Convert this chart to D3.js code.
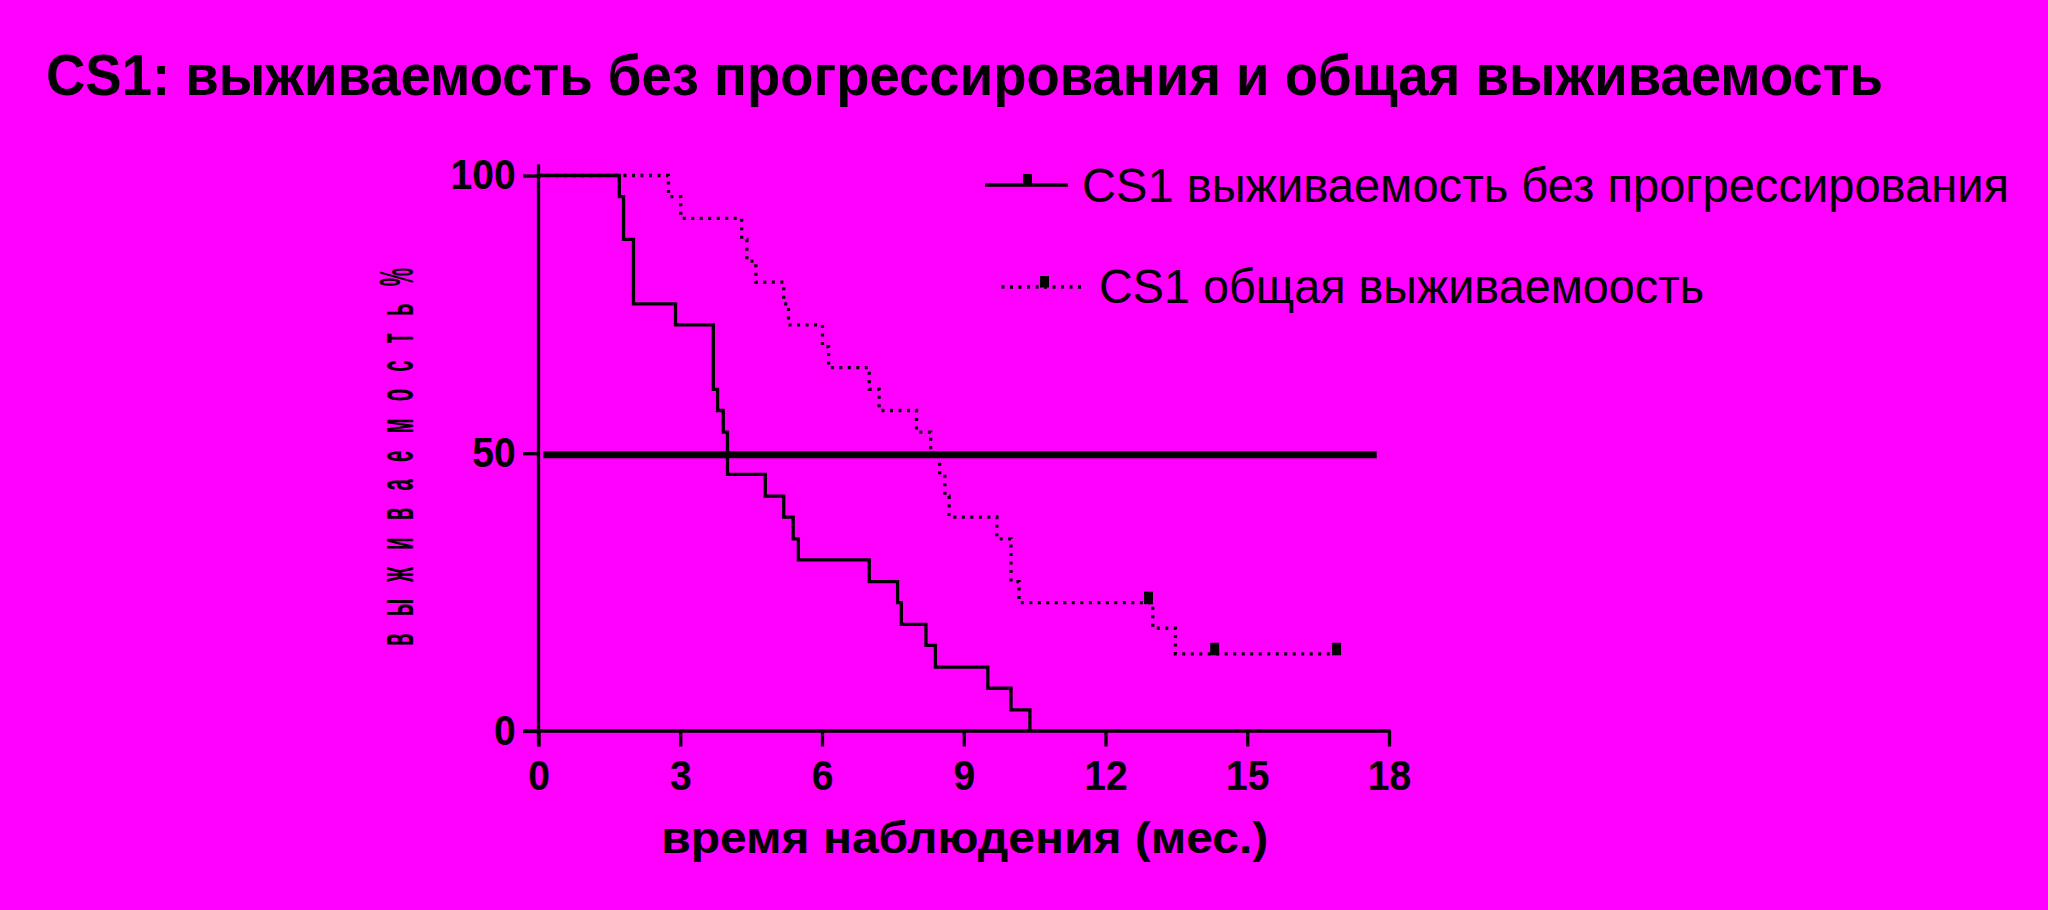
<!DOCTYPE html>
<html><head><meta charset="utf-8">
<script src="https://cdn.jsdelivr.net/npm/d3@7"></script>
<style>html,body{margin:0;padding:0;background:#ff00ff;overflow:hidden}</style>
</head><body>
<svg id="c" width="2048" height="910"></svg>
<script>
// ---- data ----
const titleText = "CS1: выживаемость без прогрессирования и общая выживаемость";
const xLabel = "время наблюдения (мес.)";
const yLabel = "в ы ж и в а е м о с т ь %";
const seriesNames = ["CS1 выживаемость без прогрессирования", "CS1 общая выживаемоость"];
const xTicks = [0, 3, 6, 9, 12, 15, 18];
const yTicks = [0, 50, 100];
const xDomain = [0, 18];
const yDomain = [0, 102];

const pfsTime = [0, 1.71, 1.80, 2.01, 2.90, 3.70, 3.79, 3.91, 4.00, 4.80, 5.19, 5.39, 5.50, 7.00, 7.60, 7.68, 8.20, 8.40, 9.51, 10.00, 10.40];
const pfsSurv = [100, 96.2, 88.5, 76.9, 73.1, 61.5, 57.7, 53.8, 46.2, 42.3, 38.5, 34.6, 30.8, 26.9, 23.1, 19.2, 15.4, 11.5, 7.7, 3.8, 0];

const osTime = [0, 2.75, 3.01, 4.30, 4.41, 4.60, 5.19, 5.29, 6.01, 6.14, 7.00, 7.21, 8.00, 8.30, 8.49, 8.60, 8.69, 9.70, 10.00, 10.17, 13.00, 13.48, 16.87];
const osSurv = [100, 96.2, 92.3, 88.5, 84.6, 80.8, 76.9, 73.1, 69.2, 65.4, 61.5, 57.7, 53.8, 50.0, 46.2, 42.3, 38.5, 34.6, 26.9, 23.1, 18.5, 13.9, 13.9];

const osCensorTime = [12.91, 14.31, 16.89];
const osCensorSurv = [23.1, 13.9, 13.9];

const medianLevel = 50;
const medianFrom = 0.1;
const medianTo = 17.74;

// ---- drawing ----
const svg = d3.select("#c");
const FONT = "'Liberation Sans', Arial, Helvetica, sans-serif";
const x = d3.scaleLinear().domain(xDomain).range([538.5, 1389]);
const y = d3.scaleLinear().domain(yDomain).range([731, 164.4]);
const SW = 3.3;

// title
svg.append("text").attr("x", 46).attr("y", 95)
  .attr("font-family", FONT).attr("font-weight", "bold").attr("font-size", 58)
  .attr("textLength", 1837).attr("lengthAdjust", "spacingAndGlyphs")
  .text(titleText);

// axes
const tickLen = 15.5;
const yAxis = d3.axisLeft(y).tickValues(yTicks).tickSize(tickLen).tickPadding(9).tickSizeOuter(0);
const xAxis = d3.axisBottom(x).tickValues(xTicks).tickSize(tickLen).tickPadding(13.5).tickSizeOuter(0);

const gy = svg.append("g").attr("transform", `translate(${x(0)},0)`).call(yAxis);
const gx = svg.append("g").attr("transform", `translate(0,${y(0)})`).call(xAxis);
[gy, gx].forEach(g => {
  g.select(".domain").remove();
  g.selectAll(".tick line").attr("stroke", "#000").attr("stroke-width", SW);
  g.selectAll(".tick text").attr("fill", "#000")
    .attr("font-family", FONT).attr("font-weight", "bold").attr("font-size", 42);
});
gy.selectAll(".tick text").attr("transform", "scale(0.93,1)");
gx.selectAll(".tick text").attr("transform", "scale(0.93,1)");

// axis lines (Prism style: extend by tick length)
svg.append("line").attr("x1", x(0)).attr("x2", x(0))
  .attr("y1", y(yDomain[1])).attr("y2", y(0) + tickLen)
  .attr("stroke", "#000").attr("stroke-width", SW);
svg.append("line").attr("x1", x(0) - tickLen).attr("x2", x(xDomain[1]) + SW / 2)
  .attr("y1", y(0)).attr("y2", y(0))
  .attr("stroke", "#000").attr("stroke-width", SW);

// median line
svg.append("line").attr("x1", x(medianFrom)).attr("x2", x(medianTo))
  .attr("y1", y(medianLevel) + 1.5).attr("y2", y(medianLevel) + 1.5)
  .attr("stroke", "#000").attr("stroke-width", 7);

// curves
const line = d3.line().x(d => x(d[0])).y(d => y(d[1])).curve(d3.curveStepAfter);
const pfs = pfsTime.map((t, i) => [t, pfsSurv[i]]);
const os = osTime.map((t, i) => [t, osSurv[i]]);

svg.append("path").attr("d", line(pfs)).attr("fill", "none")
  .attr("stroke", "#000").attr("stroke-width", SW);
svg.append("path").attr("d", line(os)).attr("fill", "none")
  .attr("stroke", "#000").attr("stroke-width", SW).attr("stroke-dasharray", "3,5.5");

// censor marks
svg.selectAll("rect.cens").data(osCensorTime.map((t, i) => [t, osCensorSurv[i]]))
  .enter().append("rect").attr("class", "cens")
  .attr("x", d => x(d[0]) - 4.5).attr("y", d => y(d[1]) - 11)
  .attr("width", 9).attr("height", 12.5).attr("fill", "#000");

// legend
const leg = [
  { y: 185, x1: 985, x2: 1068, mark: 1027.5, tx: 1082, ty: 201.7, tl: 927, dash: null },
  { y: 287, x1: 1001.5, x2: 1082, mark: 1044.5, tx: 1099, ty: 303.3, tl: 605, dash: "3,5.5" }
];
leg.forEach((l, i) => {
  const ln = svg.append("line").attr("x1", l.x1).attr("x2", l.x2).attr("y1", l.y).attr("y2", l.y)
    .attr("stroke", "#000").attr("stroke-width", SW);
  if (l.dash) ln.attr("stroke-dasharray", l.dash);
  svg.append("rect").attr("x", l.mark - 4.5).attr("y", l.y - 11).attr("width", 9).attr("height", 11.5).attr("fill", "#000");
  svg.append("text").attr("x", l.tx).attr("y", l.ty)
    .attr("font-family", FONT).attr("font-size", 48)
    .attr("textLength", l.tl).attr("lengthAdjust", "spacingAndGlyphs")
    .text(seriesNames[i]);
});

// x label
svg.append("text").attr("x", (x(xDomain[0]) + x(xDomain[1])) / 2 + 1).attr("y", 853)
  .attr("text-anchor", "middle")
  .attr("font-family", FONT).attr("font-weight", "bold").attr("font-size", 45)
  .attr("textLength", 607).attr("lengthAdjust", "spacingAndGlyphs")
  .text(xLabel);

// y label
const sx = 0.43;
svg.append("text")
  .attr("transform", `translate(413,457) rotate(-90) scale(${sx},1)`)
  .attr("text-anchor", "middle")
  .attr("font-family", FONT).attr("font-weight", "bold").attr("font-size", 48)
  .attr("textLength", 378 / sx).attr("lengthAdjust", "spacing")
  .text(yLabel);
</script>
</body></html>
